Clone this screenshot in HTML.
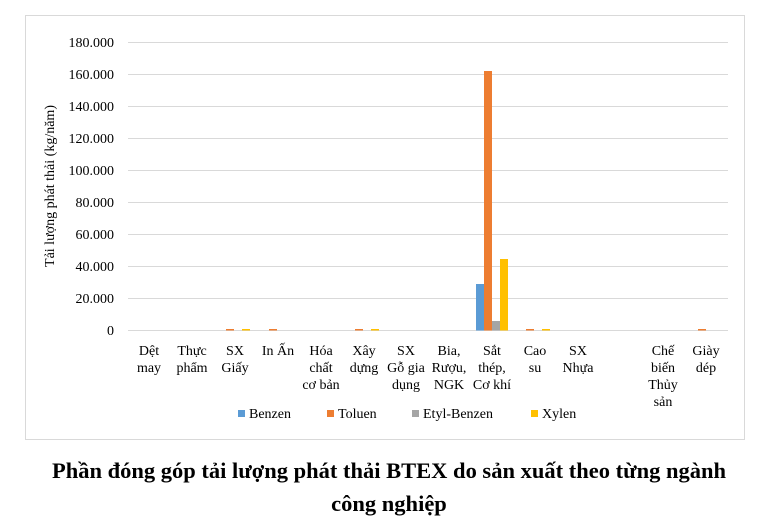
<!DOCTYPE html>
<html><head><meta charset="utf-8"><style>
body{margin:0;background:#fff;width:765px;height:525px;overflow:hidden;font-family:"Liberation Serif",serif}
</style></head><body>
<svg width="765" height="525" xmlns="http://www.w3.org/2000/svg" font-family="Liberation Serif, serif">
<rect x="25.5" y="15.5" width="719" height="424" fill="#fff" stroke="#d9d9d9"/>
<g stroke="#d9d9d9" stroke-width="1">
<line x1="128" x2="728" y1="42.5" y2="42.5"/>
<line x1="128" x2="728" y1="74.5" y2="74.5"/>
<line x1="128" x2="728" y1="106.5" y2="106.5"/>
<line x1="128" x2="728" y1="138.5" y2="138.5"/>
<line x1="128" x2="728" y1="170.5" y2="170.5"/>
<line x1="128" x2="728" y1="202.5" y2="202.5"/>
<line x1="128" x2="728" y1="234.5" y2="234.5"/>
<line x1="128" x2="728" y1="266.5" y2="266.5"/>
<line x1="128" x2="728" y1="298.5" y2="298.5"/>
<line x1="128" x2="728" y1="330.5" y2="330.5"/>
</g>
<g font-size="14" text-anchor="end" fill="#000">
<text x="114" y="47">180.000</text><text x="114" y="79">160.000</text><text x="114" y="111">140.000</text>
<text x="114" y="143">120.000</text><text x="114" y="175">100.000</text><text x="114" y="207">80.000</text>
<text x="114" y="239">60.000</text><text x="114" y="271">40.000</text><text x="114" y="303">20.000</text>
<text x="114" y="335">0</text>
</g>
<text transform="translate(54,186) rotate(-90)" font-size="14" text-anchor="middle">Tải lượng phát thải (kg/năm)</text>
<rect x="476" y="284" width="8" height="46.5" fill="#5b9bd5"/>
<rect x="484" y="71" width="8" height="259.5" fill="#ed7d31"/>
<rect x="492" y="321" width="8" height="9.5" fill="#a5a5a5"/>
<rect x="500" y="259" width="8" height="71.5" fill="#ffc000"/>
<g fill="#ed7d31"><rect x="226" y="329" width="8" height="1.5"/><rect x="269" y="329" width="8" height="1.5"/><rect x="355" y="329" width="8" height="1.5"/><rect x="526" y="329" width="8" height="1.5"/><rect x="698" y="329" width="8" height="1.5"/></g>
<g fill="#ffc000"><rect x="242" y="329" width="8" height="1.5"/><rect x="371" y="329" width="8" height="1.5"/><rect x="542" y="329" width="8" height="1.5"/></g>
<g font-size="14" text-anchor="middle" fill="#000">
<text x="149" y="355">Dệt</text><text x="149" y="372">may</text>
<text x="192" y="355">Thực</text><text x="192" y="372">phẩm</text>
<text x="235" y="355">SX</text><text x="235" y="372">Giấy</text>
<text x="278" y="355">In Ấn</text>
<text x="321" y="355">Hóa</text><text x="321" y="372">chất</text><text x="321" y="389">cơ bản</text>
<text x="364" y="355">Xây</text><text x="364" y="372">dựng</text>
<text x="406" y="355">SX</text><text x="406" y="372">Gỗ gia</text><text x="406" y="389">dụng</text>
<text x="449" y="355">Bia,</text><text x="449" y="372">Rượu,</text><text x="449" y="389">NGK</text>
<text x="492" y="355">Sắt</text><text x="492" y="372">thép,</text><text x="492" y="389">Cơ khí</text>
<text x="535" y="355">Cao</text><text x="535" y="372">su</text>
<text x="578" y="355">SX</text><text x="578" y="372">Nhựa</text>
<text x="663" y="355">Chế</text><text x="663" y="372">biến</text><text x="663" y="389">Thủy</text><text x="663" y="406">sản</text>
<text x="706" y="355">Giày</text><text x="706" y="372">dép</text>
</g>
<g font-size="14" fill="#000">
<rect x="238" y="410" width="7" height="7" fill="#5b9bd5"/><text x="249" y="418">Benzen</text>
<rect x="327" y="410" width="7" height="7" fill="#ed7d31"/><text x="338" y="418">Toluen</text>
<rect x="412" y="410" width="7" height="7" fill="#a5a5a5"/><text x="423" y="418">Etyl-Benzen</text>
<rect x="531" y="410" width="7" height="7" fill="#ffc000"/><text x="542" y="418">Xylen</text>
</g>
<g font-size="22.5" font-weight="bold" text-anchor="middle" fill="#000">
<text x="389" y="478" textLength="674" lengthAdjust="spacingAndGlyphs">Phần đóng góp tải lượng phát thải BTEX do sản xuất theo từng ngành</text>
<text x="389" y="511">công nghiệp</text>
</g>
</svg>
</body></html>
